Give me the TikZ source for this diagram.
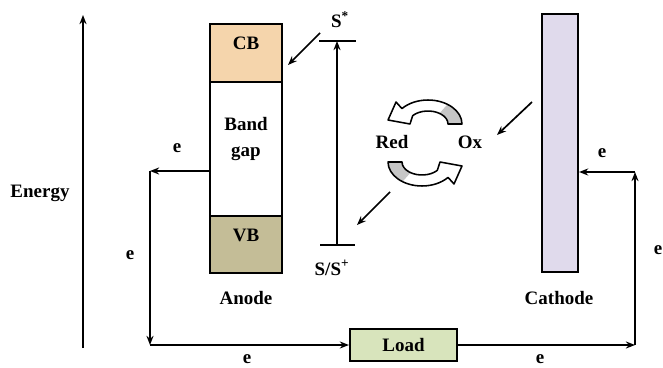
\documentclass[tikz,border=0pt]{standalone}
\usepackage{fontspec}
\setmainfont{Liberation Serif}
\usetikzlibrary{arrows.meta}
\definecolor{cbcol}{RGB}{245,213,172}
\definecolor{vbcol}{RGB}{196,189,151}
\definecolor{cathcol}{RGB}{224,218,236}
\definecolor{loadcol}{RGB}{216,228,188}
\tikzset{
  band/.style={draw,line width=1.5pt,inner sep=0pt,minimum width=1.8cm},
  wire/.style={line width=1.3pt,-{Stealth[length=6.5pt,width=5pt]}},
  level/.style={line width=1.4pt},
  hint/.style={line width=1.2pt,-{Stealth[length=6.5pt,width=5pt]}},
  lbl/.style={font=\fontsize{13.5}{15}\selectfont\bfseries}
}
\begin{document}
\begin{tikzpicture}[every node/.append style={lbl}]
  \useasboundingbox[fill=white] (0,0) rectangle (16.575,9.175);
  \coordinate (E0) at (2.075,0.475);
  \coordinate (E1) at (2.075,8.8);
  \draw[wire] (E0) -- (E1);
  \node (energy) at (1.0,4.35) {Energy};
  \node[band,fill=cbcol,minimum height=1.45cm] (CB) at (6.15,7.85) {};
  \node[band,fill=white,minimum height=3.35cm] (Gap) at (6.15,5.45) {};
  \node[band,fill=vbcol,minimum height=1.425cm] (VB) at (6.15,3.0625) {};
  \node (cbtxt) at (6.15,8.1) {CB};
  \node[align=center] (gaptxt) at (6.15,5.7) {Band\\[3pt]gap};
  \node (vbtxt) at (6.15,3.3) {VB};
  \node (anode) at (6.15,1.725) {Anode};
  \node[band,fill=cathcol,minimum width=0.9cm,minimum height=6.45cm] (Cathode) at (14.0,5.6) {};
  \node (cathtxt) at (13.975,1.725) {Cathode};
  \node[band,fill=loadcol,minimum width=2.675cm,minimum height=0.8cm] (Load) at (10.0875,0.55) {Load};
  \coordinate (LT) at (3.75,4.9);
  \coordinate (LB) at (3.75,0.55);
  \coordinate (RB) at (15.875,0.55);
  \coordinate (RT) at (15.875,4.875);
  \draw[wire] (Gap.west |- LT) -- (LT);
  \draw[wire] (LT) -- (LB);
  \draw[wire] (LB) -- (Load.west);
  \draw[wire] (Load.east) -- (RB);
  \draw[wire] (RB) -- (RT);
  \draw[wire] (RT) -- (Cathode.east |- RT);
  \node (e1) at (4.425,5.475) {e};
  \node (e2) at (3.25,2.8) {e};
  \node (e3) at (6.175,0.2) {e};
  \node (e4) at (13.5,0.2) {e};
  \node (e5) at (16.45,2.925) {e};
  \node (e6) at (15.05,5.35) {e};
  \coordinate (SsL) at (7.975,8.15);
  \coordinate (SsR) at (8.9,8.15);
  \coordinate (SgL) at (8.0,3.05);
  \coordinate (SgR) at (8.875,3.05);
  \coordinate (Ss) at (8.425,8.15);
  \coordinate (Sg) at (8.425,3.05);
  \draw[level] (SsL) -- (SsR);
  \draw[level] (SgL) -- (SgR);
  \draw[wire] (Sg) -- (Ss);
  \node (sstar) at (8.5,8.675) {S\textsuperscript{*}};
  \node (sground) at (8.3,2.475) {S/S\textsuperscript{+}};
  \node (red) at (9.8,5.625) {Red};
  \node (ox) at (11.75,5.625) {Ox};
  \coordinate (A1) at (8.0,8.35);
  \coordinate (B1) at (7.2,7.55);
  \coordinate (A2) at (13.3,6.625);
  \coordinate (B2) at (12.425,5.8);
  \coordinate (A3) at (9.75,4.375);
  \coordinate (B3) at (8.925,3.55);
  \draw[hint] (A1) -- (B1);
  \draw[hint] (A2) -- (B2);
  \draw[hint] (A3) -- (B3);
  \foreach \ang in {0,180}{
    \begin{scope}[shift={(10.625,5.6)},rotate=\ang,x=0.025cm,y=-0.025cm]
      \fill[gray!45] (37,-19) arc[start angle=0,end angle=-55,x radius=34,y radius=24]
        -- (14.47,-29.65) arc[start angle=-55,end angle=0,x radius=20,y radius=13] -- cycle;
      \draw[line width=1.1pt,line join=round] (37,-19) arc[start angle=0,end angle=-140,x radius=34,y radius=24]
        -- (-29,-41) -- (-37,-23) -- (-15,-19) -- (-12.32,-27.36)
        arc[start angle=-140,end angle=0,x radius=20,y radius=13] -- cycle;
    \end{scope}
  }
\end{tikzpicture}
\end{document}
